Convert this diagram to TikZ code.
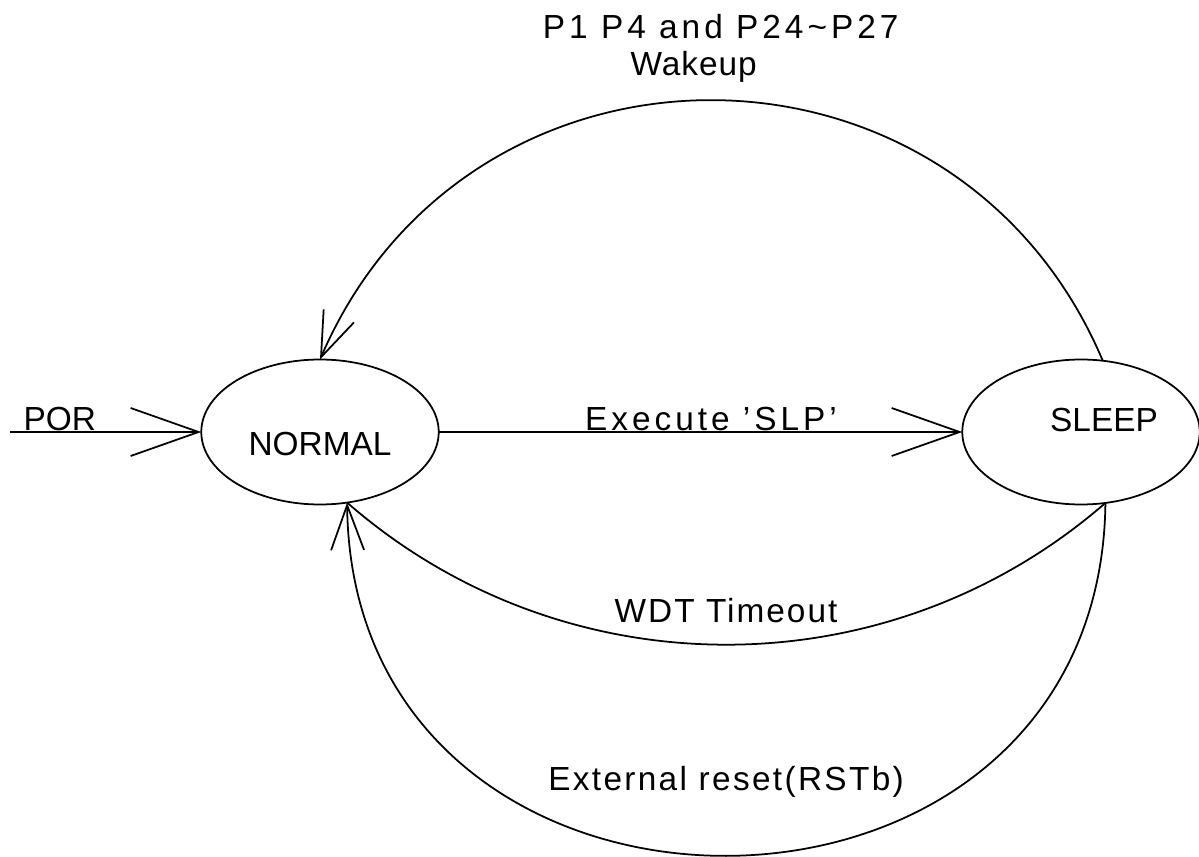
\documentclass[tikz,border=0pt]{standalone}
\usepackage{fontspec}
\setmainfont{Liberation Sans}
\usetikzlibrary{shapes.geometric,arrows.meta,positioning}

\begin{document}
\begin{tikzpicture}[
		x=0.02cm, y=-0.02cm,
		> = {Straight Barb[length=1.36cm,width=0.96cm]},
		line width=1pt,
		font=\fontsize{19}{22}\selectfont,
		state/.style={draw,ellipse,minimum width=4.75cm,minimum height=2.9cm,inner sep=0pt,outer sep=0pt},
		short/.style={-{Straight Barb[length=0.9cm,width=0.66cm]}},
		lbl/.style={inner sep=0pt},
		spaced/.style={lbl,font=\fontsize{19}{22}\selectfont\addfontfeatures{LetterSpace=#1}}
		]
		\useasboundingbox (0,0) rectangle (1199,857);
		% States
		\node[state, label={[lbl,yshift=-0.25cm]center:NORMAL}] at (320,432) (normal) {};
		\node[state, label={[lbl,xshift=0.46cm,yshift=0.24cm]center:SLEEP}] at (1081,432) (sleep) {};
		\coordinate (por) at (10,432);

		% Straight transitions
		\path[->] 	(por) edge node[lbl, above, pos=0.26] {POR} (normal)
					(normal) edge node[spaced=12, above, pos=0.52] {Execute 'SLP'} (sleep);

		% Wakeup
		\draw[short] (sleep.73) .. controls (956,14) and (469,14) .. (normal.north)
			node[spaced=3, pos=0.5, anchor=base, xshift=-0.37cm, yshift=0.5cm] (wake) {Wakeup};
		\node[spaced=12, above=0.21cm of wake, xshift=0.54cm] (pins) {P1 P4 and P24\textasciitilde P27};

		% Back to normal
		\draw (sleep.-71) .. controls (888,692) and (564,692) .. (normal.-69)
			node[spaced=6, pos=0.5, anchor=base, yshift=0.45cm] (wdt) {WDT Timeout};
		\draw[short] (sleep.-71) .. controls (1100,973) and (352,973) .. (normal.-69)
			node[spaced=7, pos=0.5, anchor=base, yshift=1.3cm] (rst) {External reset(RSTb)};
	\end{tikzpicture}
\end{document}
